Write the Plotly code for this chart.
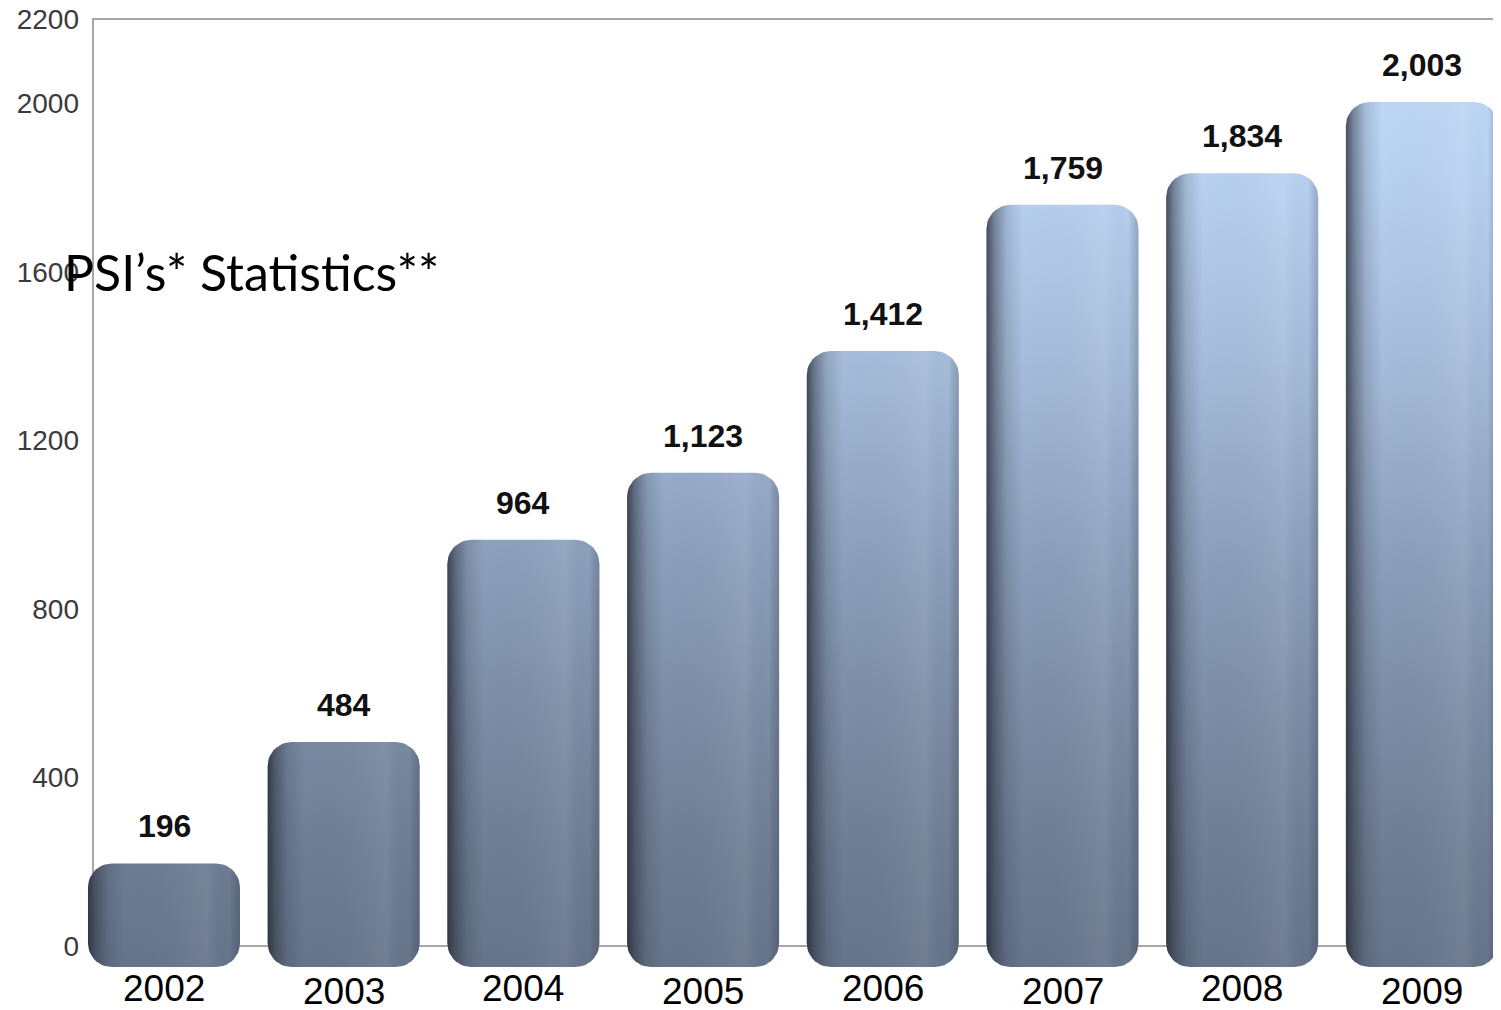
import numpy as np
import plotly.graph_objects as go

# ---------------- data ----------------
years = ["2002", "2003", "2004", "2005", "2006", "2007", "2008", "2009"]
values = [196, 484, 964, 1123, 1412, 1759, 1834, 2003]
y_ticks = [0, 400, 800, 1200, 1600, 2000, 2200]
title_text = "PSI’s* Statistics**"

# ---------------- geometry / layout constants ----------------
OFF = 8                 # page body margin in the browser
W, H = 1501 - OFF, 1010 - OFF
PX_X = 179.7            # pixels per category step
PX_Y = 927 / 2200       # pixels per value unit
X0_PX = 164 - OFF       # pixel column of first category (figure coords)
Y0_PX = 946 - OFF       # pixel row of value 0 (figure coords)
ML, MR, MT, MB = 0, 0, 2, 42

x_lo = -(X0_PX - ML) / PX_X
x_range = [x_lo, x_lo + (W - ML - MR) / PX_X]
y_range = [-(H - MB - Y0_PX) / PX_Y, (Y0_PX - MT) / PX_Y]

HALF_W = 0.423
BAR_BOTTOM = -50
R_PX = 24

vert_scale = [
    [0.00, "#66748a"],
    [0.12, "#6e7d93"],
    [0.30, "#7d8ea7"],
    [0.48, "#8fa3bf"],
    [0.67, "#a6bcdb"],
    [0.86, "#b8d0f0"],
    [1.00, "#c0daf9"],
]
horiz_scale = [
    [0.00, "rgba(30,35,45,0.75)"],
    [0.05, "rgba(30,35,45,0.45)"],
    [0.13, "rgba(30,35,45,0.15)"],
    [0.24, "rgba(30,35,45,0.0)"],
    [0.78, "rgba(255,255,255,0.07)"],
    [0.93, "rgba(0,0,0,0.0)"],
    [1.00, "rgba(30,35,45,0.22)"],
]


def rounded_bar(xc, top):
    rx = R_PX / PX_X
    ry = min(R_PX / PX_Y, (top - BAR_BOTTOM) / 2)
    t = np.linspace(0, np.pi / 2, 12)
    corners = [
        (xc - HALF_W + rx, BAR_BOTTOM + ry, np.pi),
        (xc + HALF_W - rx, BAR_BOTTOM + ry, 1.5 * np.pi),
        (xc + HALF_W - rx, top - ry, 0.0),
        (xc - HALF_W + rx, top - ry, 0.5 * np.pi),
    ]
    xs, ys = [], []
    for cx, cy, a0 in corners:
        a = a0 + t
        xs += list(cx + rx * np.cos(a))
        ys += list(cy + ry * np.sin(a))
    xs.append(xs[0])
    ys.append(ys[0])
    return xs, ys


fig = go.Figure()

for i, v in enumerate(values):
    xs, ys = rounded_bar(i, v)
    fig.add_trace(go.Scatter(
        x=xs, y=ys, mode="lines", fill="toself",
        line=dict(width=0, color="rgba(0,0,0,0)"),
        fillgradient=dict(type="vertical", colorscale=vert_scale,
                          start=BAR_BOTTOM, stop=2100),
        hoverinfo="skip", showlegend=False,
    ))
    fig.add_trace(go.Scatter(
        x=xs, y=ys, mode="lines", fill="toself",
        line=dict(width=0, color="rgba(0,0,0,0)"),
        fillgradient=dict(type="horizontal", colorscale=horiz_scale,
                          start=i - HALF_W, stop=i + HALF_W),
        hoverinfo="skip", showlegend=False,
    ))

annotations = []
for i, v in enumerate(values):
    annotations.append(dict(
        x=i, y=v, xref="x", yref="y", text=f"{v:,}", showarrow=False,
        yanchor="middle", yshift=37,
        font=dict(family="Liberation Sans, Arial", size=32, color="#111111", weight="bold"),
    ))
for i, yr in enumerate(years):
    annotations.append(dict(
        x=i, y=0, xref="x", yref="paper", text=yr, showarrow=False,
        yanchor="middle", yshift=-20 - 3 * (i % 2),
        font=dict(family="Liberation Sans, Arial", size=37, color="#000000"),
    ))
annotations.append(dict(
    x=(62 - OFF) / W, y=1 - (272 - OFF - MT) / (H - MT - MB),
    xref="paper", yref="paper",
    text=title_text, showarrow=False, xanchor="left", yanchor="middle",
    font=dict(family="Lato", size=50, color="#000000"),
))

fig.update_layout(
    width=W, height=H,
    margin=dict(l=ML, r=MR, t=MT, b=MB),
    paper_bgcolor="white", plot_bgcolor="white",
    showlegend=False,
    xaxis=dict(range=x_range, showgrid=False, zeroline=False, showline=False,
               showticklabels=False, ticks="", fixedrange=True),
    yaxis=dict(range=y_range, anchor="free", position=(93 - OFF) / W,
               tickvals=y_ticks, ticktext=[str(t) for t in y_ticks],
               showgrid=False, zeroline=False, showline=False, ticks="",
               ticklabelstandoff=14, automargin=False, ticklabeloverflow="allow",
               tickfont=dict(family="Liberation Sans, Arial", size=28, color="#3a3a3a")),
    annotations=annotations,
    shapes=[dict(type="rect", xref="paper", yref="y",
                 x0=(93 - OFF) / W, x1=(1497 - OFF) / W,
                 y0=0, y1=2200, line=dict(color="#8a8a8a", width=1.5),
                 layer="below")],
)

fig.write_html("out.html")
